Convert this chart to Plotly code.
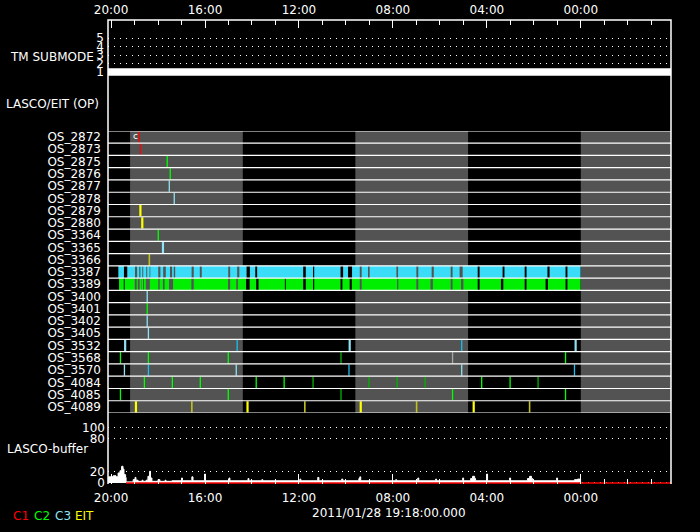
import pandas as pd
import plotly.graph_objects as go

BASE = pd.Timestamp("2011-01-28 00:00:00")

# ---------------- data (hours relative to 2011-01-28 00:00) ----------------
x_range_hours = [20.13, -3.84]
date_label = "2011/01/28 19:18:00.000"

tm_hours = [20.3, 8.0, -4.0]
tm_mode = [1, 1, 1]
tm_ticks = [1, 2, 3, 4, 5]

os_names = ["OS_2872", "OS_2873", "OS_2875", "OS_2876", "OS_2877", "OS_2878",
            "OS_2879", "OS_2880", "OS_3364", "OS_3365", "OS_3366", "OS_3387",
            "OS_3389", "OS_3400", "OS_3401", "OS_3402", "OS_3405", "OS_3532",
            "OS_3568", "OS_3570", "OS_4084", "OS_4085", "OS_4089"]

band_start = [19.19, 9.60, 0.00]
band_end = [14.39, 4.80, -4.80]

mark_row = (["OS_2872", "OS_2873", "OS_2875", "OS_2876", "OS_2877", "OS_2878",
             "OS_2879", "OS_2880", "OS_3364", "OS_3365", "OS_3366", "OS_3400",
             "OS_3401", "OS_3402", "OS_3405"]
            + ["OS_3532"] * 5 + ["OS_3568"] * 6 + ["OS_3570"] * 6
            + ["OS_4084"] * 12 + ["OS_4085"] * 5 + ["OS_4089"] * 8)
mark_hour = ([18.80, 18.75, 17.61, 17.48, 17.52, 17.31, 18.75, 18.67, 17.99,
              17.79, 18.37, 18.46, 18.46, 18.46, 18.41]
             + [19.40, 14.63, 9.84, 5.07, 0.22]
             + [19.60, 18.41, 15.01, 10.21, 5.46, 0.65]
             + [19.43, 18.41, 14.67, 9.87, 5.07, 0.27]
             + [18.58, 17.39, 16.20, 13.82, 12.63, 11.40, 9.02, 7.82, 6.63, 4.22, 3.01, 1.82]
             + [19.60, 15.01, 10.21, 5.46, 0.65]
             + [18.94, 16.56, 14.19, 11.75, 9.37, 6.99, 4.56, 2.18])
mark_kind = (["C1", "C1", "C2", "C2", "C3", "C3", "EIT", "EIT", "C2", "C3w",
              "EITd", "C3", "C2", "C3", "C3"]
             + ["C3w", "C3b", "C3w", "C3b", "C3w"]
             + ["C2", "C2", "C2", "C2d", "GR", "C2"]
             + ["C3", "C3b", "C3", "C3b", "C3", "C3b"]
             + ["C2", "C2", "C2", "C2", "C2", "C2d", "C2d", "C2d", "C2d", "C2", "C2", "C2d"]
             + ["C2", "C2", "C2d", "C2", "C2"]
             + ["EIT", "EITd", "EIT", "EITd", "EIT", "EITd", "EIT", "EITd"])

seg3387_start = [19.69, 19.31, 18.89, 18.75, 18.63, 18.46, 18.33, 17.90, 17.67, 17.40,
                 17.27, 16.48, 16.14, 14.93, 14.54, 14.09, 13.78, 11.71, 11.35, 10.12,
                 9.74, 9.33, 8.99, 7.78, 6.92, 6.26, 5.46, 5.03, 4.31, 3.25, 2.31, 1.33, 0.57]
seg3387_end = [19.45, 18.98, 18.80, 18.67, 18.50, 18.36, 17.99, 17.78, 17.49, 17.33,
               16.57, 16.22, 15.01, 14.63, 14.23, 13.86, 11.82, 11.40, 10.23, 9.91,
               9.41, 9.06, 7.85, 7.00, 6.35, 5.54, 5.16, 4.39, 3.33, 2.39, 1.42, 0.65, 0.01]

seg3389_start = [19.66, 19.42, 18.91, 18.78, 18.70, 18.60, 18.35, 17.93, 17.72, 17.36,
                 16.48, 14.93, 14.60, 14.10, 13.72, 12.56, 11.71, 11.35, 10.15, 9.75,
                 9.33, 7.77, 6.92, 6.30, 5.46, 5.00, 4.31, 3.30, 2.31, 1.40, 0.57]
seg3389_end = [19.46, 18.99, 18.86, 18.71, 18.64, 18.52, 17.99, 17.79, 17.53, 16.58,
               15.02, 14.67, 14.25, 13.82, 12.60, 11.82, 11.40, 10.23, 9.84, 9.41,
               7.82, 7.00, 6.40, 5.54, 5.10, 4.39, 3.40, 2.39, 1.50, 0.65, 0.01]

buf_hours = [20.13, 19.91, 19.79, 19.70, 19.62, 19.55, 19.49, 19.45, 19.38, 19.36,
             19.06, 18.98, 18.94, 18.85, 18.68, 18.64, 18.51, 18.43, 18.36, 18.32,
             18.26, 18.00, 17.92, 17.70, 17.66, 17.41, 17.00, 16.96, 16.56, 16.51,
             16.02, 15.98, 14.98, 14.94, 14.17, 14.13, 13.58, 13.54, 11.96, 11.92,
             11.20, 11.15, 10.18, 10.13, 9.45, 9.41, 9.37, 7.88, 7.84, 6.94,
             6.90, 6.18, 6.14, 5.03, 4.99, 4.69, 4.61, 4.52, 4.48, 4.01,
             3.97, 3.03, 2.99, 2.27, 2.18, 2.10, 2.05, 1.03, 0.99, 0.27,
             0.14, 0.01]
buf_values = [11, 13, 11, 18, 22, 30, 25, 15, 10, 2,
              6, 10, 5, 3, 5, 3, 5, 12, 21, 9,
              3, 6, 3, 5, 3, 4, 9, 4, 11, 4,
              16, 4, 9, 4, 8, 4, 6, 4, 7, 4,
              10, 4, 7, 4, 8, 11, 4, 6, 4, 9,
              4, 7, 4, 9, 4, 8, 12, 8, 4, 16,
              4, 9, 4, 8, 12, 8, 4, 9, 4, 6,
              7, 0]
buf_ticks = [0, 20, 80, 100]
buf_zero_hours = [19.36, -4.5]

legend_names = ["C1", "C2", "C3", "EIT"]

# ---------------- styles ----------------
FONT = "DejaVu Sans"
kind_style = {
    "C1": ("#ff0000", 1.3), "C2": ("#00ff00", 1.3), "C2d": ("#00b400", 1.3),
    "C3": ("#8ee2f2", 1.3), "C3w": ("#8ee2f2", 2.2), "C3b": ("#18bff0", 1.3),
    "EIT": ("#ffff00", 2.2), "EITd": ("#c2c020", 1.6), "GR": ("#a8a8a8", 1.3),
}
legend_colors = ["#ff0000", "#00ff00", "#8ee2f2", "#ffff00"]


def ts(h):
    return (BASE + pd.to_timedelta(h, unit="h")).strftime("%Y-%m-%d %H:%M:%S")


fig = go.Figure()

# TM submode
fig.add_trace(go.Scatter(x=[ts(h) for h in tm_hours], y=tm_mode, mode="lines",
                         line=dict(color="white", width=7.5), xaxis="x", yaxis="y",
                         hoverinfo="skip"))

# OS marks
row_index = {n: i for i, n in enumerate(os_names)}
for kind, (col, w) in kind_style.items():
    xs, ys = [], []
    for r, h, k in zip(mark_row, mark_hour, mark_kind):
        if k != kind:
            continue
        i = row_index[r]
        xs += [ts(h), ts(h), None]
        ys += [i + 0.04, i + 0.96, None]
    if xs:
        fig.add_trace(go.Scatter(x=xs, y=ys, mode="lines", line=dict(color=col, width=w),
                                 xaxis="x", yaxis="y2", hoverinfo="skip"))

# buffer
fig.add_trace(go.Scatter(x=[ts(h) for h in buf_hours], y=buf_values, mode="lines",
                         line=dict(color="white", width=1, shape="hv"), fill="tozeroy",
                         fillcolor="white", xaxis="x", yaxis="y3", hoverinfo="skip"))
fig.add_trace(go.Scatter(x=[ts(h) for h in buf_zero_hours], y=[0, 0], mode="lines",
                         line=dict(color="#ff0000", width=1.5), xaxis="x", yaxis="y3",
                         hoverinfo="skip"))
# helper for top axis
fig.add_trace(go.Scatter(x=[ts(10)], y=[3], mode="markers", marker=dict(opacity=0),
                         xaxis="x2", yaxis="y", hoverinfo="skip"))

shapes = []
for s, e in zip(band_start, band_end):
    shapes.append(dict(type="rect", xref="x", yref="y2", x0=ts(s), x1=ts(e), y0=0, y1=len(os_names),
                       fillcolor="#535353", line=dict(width=0), layer="below"))
for starts, ends, name, col in [(seg3387_start, seg3387_end, "OS_3387", "#3adcf8"),
                                (seg3389_start, seg3389_end, "OS_3389", "#00ee00")]:
    i = row_index[name]
    for s, e in zip(starts, ends):
        shapes.append(dict(type="rect", xref="x", yref="y2", x0=ts(s), x1=ts(e), y0=i, y1=i + 1,
                           fillcolor=col, line=dict(width=0), layer="below"))
for i in range(len(os_names) + 1):
    shapes.append(dict(type="line", xref="paper", yref="y2", x0=0, x1=1, y0=i, y1=i,
                       line=dict(color="white", width=1.2), layer="above"))
shapes.append(dict(type="path", xref="paper", yref="paper", path="M 0,0 L 0,1 L 1,1 L 1,0",
                   line=dict(color="white", width=1.5), layer="above"))

tickfont = dict(family=FONT, size=12, color="white")
ann_font = dict(family=FONT, size=12, color="white")
annotations = [
    dict(text="TM SUBMODE", xref="paper", yref="paper", x=-0.021, y=0.920, xanchor="right",
         yanchor="middle", showarrow=False, font=ann_font),
    dict(text="LASCO/EIT (OP)", xref="paper", yref="paper", x=-0.012, y=0.819, xanchor="right",
         yanchor="middle", showarrow=False, font=ann_font),
    dict(text="LASCO-buffer", xref="paper", yref="paper", x=-0.032, y=0.0754, xanchor="right",
         yanchor="middle", showarrow=False, font=ann_font),
    dict(text=date_label, xref="paper", yref="paper", x=0.499, y=-0.0625, xanchor="center",
         yanchor="middle", showarrow=False, font=ann_font),
    dict(text="c", xref="x", yref="y2", x=ts(18.98), y=0.42, xanchor="center", yanchor="middle",
         showarrow=False, font=dict(family=FONT, size=9, color="white")),
]
for j, (name, col) in enumerate(zip(legend_names, legend_colors)):
    cx = [20.5, 41.5, 62.5, 84.5][j]
    annotations.append(dict(text=name, xref="paper", yref="paper", x=(cx - 108) / 563, y=-0.069,
                            xanchor="center", yanchor="middle", showarrow=False,
                            font=dict(family=FONT, size=12, color=col)))

common_x = dict(type="date", range=[ts(x_range_hours[0]), ts(x_range_hours[1])],
                tickformat="%H:%M", dtick=4 * 3600000, tick0=ts(0), tickfont=tickfont,
                showgrid=False, zeroline=False, showline=False, tickcolor="white",
                tickwidth=1, automargin=False)

fig.update_layout(
    width=700, height=532,
    margin=dict(l=108, r=29, t=20, b=48, autoexpand=False),
    paper_bgcolor="black", plot_bgcolor="black",
    showlegend=False,
    xaxis=dict(**common_x, anchor="y3", side="bottom", ticks="inside", ticklen=10,
               ticklabelstandoff=5,
               minor=dict(ticks="inside", ticklen=5, dtick=3600000, tick0=ts(0), tickcolor="white")),
    xaxis2=dict(**common_x, matches="x", overlaying="x", anchor="y", side="top", ticks="inside",
                ticklen=8, ticklabelstandoff=3,
                minor=dict(ticks="inside", ticklen=5, dtick=3600000, tick0=ts(0), tickcolor="white")),
    yaxis=dict(domain=[0.875, 1.0], range=[0.288, 7.17], tickvals=tm_ticks,
               ticktext=[str(v) for v in tm_ticks], tickfont=tickfont, showgrid=True,
               gridcolor="white", griddash="1px,5px", gridwidth=1, zeroline=False,
               ticks="", ticklabelstandoff=3, anchor="x", automargin=False),
    yaxis2=dict(domain=[0.153, 0.761], range=[len(os_names), 0],
                tickvals=[i + 0.5 for i in range(len(os_names))], ticktext=os_names,
                tickfont=tickfont, showgrid=False, zeroline=False, ticks="",
                ticklabelstandoff=6, anchor="x", automargin=False),
    yaxis3=dict(domain=[0.0, 0.153], range=[-1.8, 125.7], tickvals=buf_ticks,
                ticktext=[str(v) for v in buf_ticks], tickfont=tickfont, showgrid=True,
                gridcolor="white", griddash="1px,5px", gridwidth=1, zeroline=False,
                ticks="", ticklabelstandoff=2, anchor="x", automargin=False),
    shapes=shapes,
    annotations=annotations,
)

# remove the browser's default 8px body margin so the 700x532 figure fills the window exactly
fig.write_html("out.html",
               config={"displayModeBar": False},
               post_script="document.body.style.margin='0';document.body.style.background='black';")
